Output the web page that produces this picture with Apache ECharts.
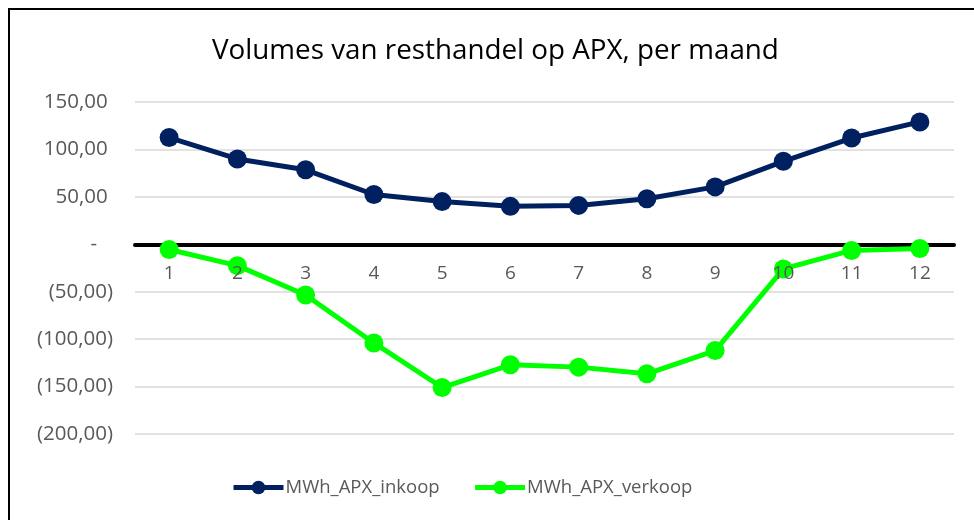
<!DOCTYPE html>
<html>
<head>
<meta charset="utf-8">
<title>Volumes van resthandel op APX</title>
<script src="https://cdn.jsdelivr.net/npm/echarts@6/dist/echarts.min.js"></script>
<style>
  html, body { margin: 0; padding: 0; background: #fff; }
  #chart { width: 974px; height: 520px; }
</style>
</head>
<body>
<div id="chart"></div>
<script>
// maanden
const months = ['1', '2', '3', '4', '5', '6', '7', '8', '9', '10', '11', '12']
// MWh per maand
const inkoop = [112.5, 90, 78.5, 52.5, 45, 40, 41, 48, 60.5, 87.5, 112, 129]
const verkoop = [-5.5, -22.5, -53.5, -104, -151, -127, -129.5, -136.5, -112, -26, -6.5, -4.5]
const seriesNames = ['MWh_APX_inkoop', 'MWh_APX_verkoop']
const colors = ['#002060', '#00ff00']

const font = '"Open Sans", "Noto Sans", sans-serif'

// excel boekhoudnotatie: 150,00 / - / (50,00)
function fmt (v) {
  if (v === 0) return '-   '
  const s = Math.abs(v).toFixed(2).replace('.', ',')
  return v < 0 ? '(' + s + ')' : s + ' '
}

const chart = echarts.init(document.getElementById('chart'))
chart.setOption({
  animation: false,
  color: colors,
  title: {
    text: 'Volumes van resthandel op APX, per maand',
    left: 207,
    top: 32,
    textStyle: {
      fontFamily: font,
      fontSize: 27.8,
      fontWeight: 'normal',
      color: '#000'
    }
  },
  legend: {
    bottom: 18,
    left: 226,
    itemWidth: 50,
    itemHeight: 17,
    itemGap: 33,
    lineStyle: { width: 5 },
    textStyle: { fontFamily: font, fontSize: 18.5, color: '#595959', padding: [0, 0, 0, -3] },
    data: seriesNames
  },
  grid: {
    top: 102,
    left: 135,
    right: 20,
    bottom: 86
  },
  xAxis: [{
    // lijn op nul
    type: 'category',
    data: months,
    axisTick: { show: false },
    axisLine: { onZero: true, lineStyle: { color: '#000', width: 4 } },
    axisLabel: { show: false }
  }, {
    // labels net onder de nullijn
    type: 'category',
    data: months,
    position: 'bottom',
    offset: -190,
    z: 10,
    axisTick: { show: false },
    axisLine: { show: false },
    axisLabel: { fontFamily: font, fontSize: 19, color: '#595959', margin: 20 }
  }],
  yAxis: {
    type: 'value',
    min: -200,
    max: 150,
    interval: 50,
    axisLine: { show: false },
    axisTick: { show: false },
    splitLine: { lineStyle: { color: '#d9d9d9', width: 1.5 } },
    axisLabel: {
      fontFamily: font,
      fontSize: 20.5,
      color: '#595959',
      margin: 22,
      formatter: fmt
    }
  },
  graphic: [{
    type: 'rect',
    shape: { x: 9, y: 9, width: 1000, height: 600 },
    style: { fill: 'none', stroke: '#000', lineWidth: 2 },
    silent: true
  }],
  series: [inkoop, verkoop].map((d, i) => ({
    name: seriesNames[i],
    type: 'line',
    data: d,
    symbol: 'circle',
    symbolSize: 19,
    z: 3,
    lineStyle: { width: 5, color: colors[i] },
    itemStyle: { color: colors[i] }
  }))
})
</script>
</body>
</html>
